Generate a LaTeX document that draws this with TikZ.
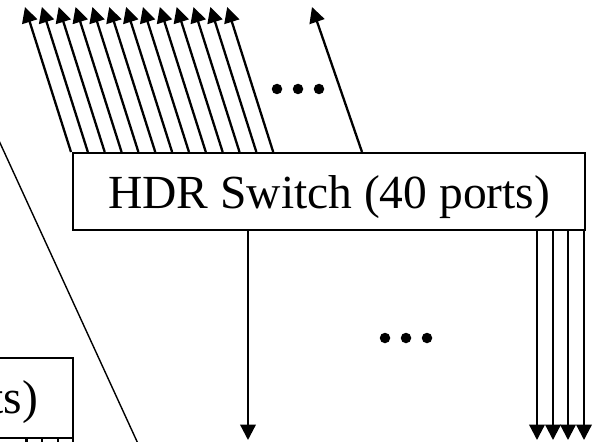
\documentclass[tikz,border=0pt]{standalone}
\usepackage{fontspec}
\setmainfont{Liberation Serif}
\usetikzlibrary{arrows.meta,calc}
\begin{document}
\begin{tikzpicture}[x=1pt,y=-1pt,
  switchbox/.style={draw,line width=2.3pt,inner sep=0pt,minimum width=512pt,
    font=\fontsize{47.5}{57}\selectfont,align=center},
  link/.style={line width=2.3pt,-{Triangle[length=15.5pt,width=15.5pt]}},
  stub/.style={line width=2.3pt},
  thinline/.style={line width=1.4pt},
  dot/.style={circle,fill,inner sep=0pt,minimum size=10.5pt}]
\useasboundingbox (0,0) rectangle (596,441);

% switches
\node[switchbox,text height=55pt,text depth=22pt,anchor=north west] (sw) at (72,152) {HDR Switch (40 ports)};
\node[switchbox,text height=55pt,text depth=25pt,anchor=north east] (sw2) at (74,357) {HDR Switch (40 ports)};

% upward links
\foreach \i in {0,...,12} {
  \coordinate (u\i) at ($(sw.north west)+(16.85*\i-47,-145)$);
  \draw[link] ($(sw.north west)+(16.85*\i-1,0)$) -- (u\i);
}
\coordinate (ut) at (312,7);
\draw[link] ($(sw.north west)+(290,0)$) -- (ut);

% downward links
\coordinate (d0) at (248,440);
\draw[link] (sw.south west -| d0) -- (d0);
\foreach \x [count=\k] in {537,553,568,584} {
  \coordinate (dr\k) at (\x,440);
  \draw[link] (sw.south west -| dr\k) -- (dr\k);
}

% stubs of the lower switch
\foreach \x [count=\k] in {26.5,42,58,73} {
  \coordinate (s\k) at (\x,450);
  \draw[stub] (sw2.south west -| s\k) -- (s\k);
}

% long slanted line
\coordinate (la) at (-5,132);
\coordinate (lb) at (140,448);
\draw[thinline] (la) -- (lb);

% ellipses
\foreach \x [count=\k] in {277,298,319} \node[dot] (ua\k) at (\x,89) {};
\foreach \x [count=\k] in {385,406,427} \node[dot] (da\k) at (\x,338) {};
\end{tikzpicture}
\end{document}
